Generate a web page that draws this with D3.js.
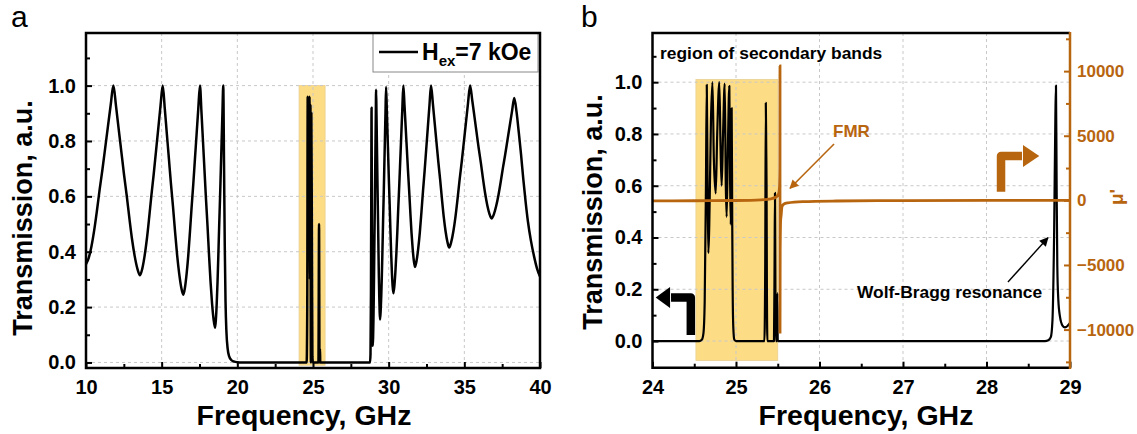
<!DOCTYPE html>
<html>
<head>
<meta charset="utf-8">
<script src="https://cdn.jsdelivr.net/npm/d3@7"></script>
<style>
  body { margin: 0; background: #fff; }
  svg text { font-family: "Liberation Sans", Arial, sans-serif; font-weight: bold; }
</style>
</head>
<body>
<svg id="chart" width="1137" height="434"></svg>
<script>
// ---- panel a : transmission vs frequency, Hex = 7 kOe
const freqA = [
  10.00,10.181,10.362,10.543,10.724,10.905,11.086,11.267,11.448,11.629,11.81,
  11.986,12.162,12.338,12.514,12.69,12.866,13.042,13.218,13.394,13.57,
  13.72,13.87,14.02,14.17,14.32,14.47,14.62,14.77,14.92,15.07,
  15.206,15.342,15.478,15.614,15.75,15.886,16.022,16.158,16.294,16.43,
  16.54,16.65,16.76,16.87,16.98,17.09,17.20,17.31,17.42,17.53,
  17.63,17.73,17.83,17.93,18.03,18.13,18.23,18.33,18.43,18.53,
  18.584,18.638,18.692,18.746,18.80,18.854,18.908,18.962,19.016,19.07,
  19.12,19.17,19.22,19.28,19.36,19.46,19.6,19.8,20.0,20.3,
  24.55,24.58,24.62,24.65,24.68,24.71,24.74,24.77,24.80,24.83,24.86,24.89,24.93,24.96,25.0,
  25.36,25.40,25.43,25.46,25.48,
  28.77,28.80,28.83,28.85,28.87,28.89,28.91,28.93,28.95,
  28.972,28.994,29.016,29.038,29.06,29.082,29.104,29.126,29.148,29.17,
  29.196,29.222,29.248,29.274,29.30,29.326,29.352,29.378,29.404,29.43,
  29.47,29.51,29.55,29.59,29.63,29.67,29.71,29.75,29.79,29.83,
  29.878,29.926,29.974,30.022,30.07,30.118,30.166,30.214,30.262,30.31,
  30.376,30.442,30.508,30.574,30.64,30.706,30.772,30.838,30.904,30.97,
  31.047,31.124,31.201,31.278,31.355,31.432,31.509,31.586,31.663,31.74,
  31.846,31.952,32.058,32.164,32.27,32.376,32.482,32.588,32.694,32.80,
  32.92,33.04,33.16,33.28,33.40,33.52,33.64,33.76,33.88,34.00,
  34.138,34.276,34.414,34.552,34.69,34.828,34.966,35.104,35.242,35.38,
  35.522,35.664,35.806,35.948,36.09,36.232,36.374,36.516,36.658,36.80,
  36.95,37.10,37.25,37.40,37.55,37.70,37.85,38.00,38.15,38.30,
  38.45,38.60,38.75,38.90,39.05,39.20,39.40,39.60,39.80,40.00];
const transA = [
  0.355,0.378,0.420,0.478,0.549,0.626,0.697,0.774,0.852,0.929,1.0,
  0.925,0.842,0.760,0.678,0.603,0.521,0.445,0.384,0.339,0.315,
  0.339,0.384,0.445,0.521,0.603,0.678,0.760,0.842,0.925,1.0,
  0.917,0.826,0.736,0.645,0.562,0.472,0.388,0.321,0.271,0.245,
  0.271,0.321,0.388,0.472,0.562,0.645,0.736,0.826,0.917,1.0,
  0.904,0.799,0.694,0.589,0.493,0.388,0.291,0.213,0.156,0.125,
  0.156,0.213,0.291,0.388,0.493,0.589,0.694,0.799,0.904,1.0,
  0.72,0.42,0.22,0.11,0.05,0.022,0.009,0.003,0.001,0,
  0,0.0,0.2,0.96,0.5,0.95,0.55,0.96,0.3,0.93,0.0,0.90,0.40,0.02,0.0,
  0.0,0.50,0.0,0.05,0.0,
  0.0,0.03,0.25,0.6,0.92,0.55,0.25,0.1,0.06,
  0.092,0.153,0.236,0.338,0.449,0.550,0.661,0.772,0.883,0.985,
  0.894,0.794,0.695,0.595,0.504,0.404,0.313,0.238,0.184,0.155,
  0.184,0.239,0.315,0.407,0.508,0.600,0.701,0.802,0.903,0.995,
  0.913,0.824,0.734,0.645,0.563,0.474,0.392,0.325,0.276,0.25,
  0.276,0.325,0.393,0.475,0.565,0.648,0.738,0.828,0.918,1.0,
  0.928,0.849,0.771,0.692,0.620,0.542,0.469,0.411,0.368,0.345,
  0.368,0.411,0.469,0.542,0.620,0.692,0.771,0.849,0.928,1.0,
  0.936,0.865,0.795,0.725,0.661,0.591,0.526,0.474,0.436,0.415,
  0.436,0.474,0.526,0.591,0.661,0.725,0.795,0.865,0.936,1.0,
  0.947,0.890,0.832,0.774,0.722,0.664,0.611,0.568,0.537,0.52,
  0.535,0.564,0.603,0.651,0.703,0.751,0.803,0.855,0.907,0.955,
  0.905,0.83,0.75,0.66,0.58,0.51,0.44,0.385,0.34,0.31];

// ---- panel b : zoom 24-29 GHz, transmission + mu'
const freqB = [
  24.00,24.56,24.59,24.61,24.625,24.64,24.65,24.66,24.669,24.68,
  24.70,24.718,24.735,24.757,24.775,24.80,24.815,24.828,24.845,24.865,
  24.878,24.888,24.903,24.92,24.93,24.938,24.948,24.955,24.96,24.968,24.98,25.0,
  25.34,25.35,25.357,25.362,25.366,25.37,25.376,
  25.455,25.462,25.467,25.472,25.478,25.49,25.495,25.5,
  28.70,28.74,28.77,28.79,28.81,28.825,28.832,28.84,28.848,28.86,28.88,28.91,28.94,28.97,29.00];
const transB = [
  0,0,0.005,0.03,0.15,0.6,0.99,0.6,0.34,0.45,
  0.85,1.0,0.7,0.57,0.8,1.0,0.75,0.6,0.8,0.995,
  0.6,0.48,0.75,0.985,0.6,0.45,0.9,0.45,0.2,0.05,0.005,0,
  0,0.3,0.92,0.75,0.6,0.2,0,
  0,0.3,0.572,0.2,0,0,0.185,0,
  0,0.003,0.015,0.08,0.42,0.87,0.987,0.6,0.29,0.16,0.094,0.06,0.053,0.058,0.07];
const freqMu = [24.00,24.50,25.00,25.30,25.42,25.48,25.51,25.52,25.525,25.527,25.5272,25.529,25.535,25.54,25.55,25.57,25.62,25.80,26.20,27.00,29.00];
const muVal  = [-40,-30,-10,40,120,260,500,900,2500,10400,-10300,-4000,-1500,-1200,-500,-300,-200,-100,-50,-20,0];

// ticks
const xTicksA = [10,15,20,25,30,35,40];
const xMinorA = [12.5,17.5,22.5,27.5,32.5,37.5];
const yTicks = [0,0.2,0.4,0.6,0.8,1.0];
const yMinor = [0.1,0.3,0.5,0.7,0.9,1.1];
const xTicksB = [24,25,26,27,28,29];
const xMinorB = [24.5,25.5,26.5,27.5,28.5];
const muTicks = [-10000,-5000,0,5000,10000];
const muMinor = [-12500,-7500,-2500,2500,7500,12500];

const ORANGE = "#b8650f";
const YELLOW = "#fddc86";
const GRID = "#c8c8c8";

const svg = d3.select("#chart");

const defs = svg.append("defs");
[["headBlack","#000"],["headOrange",ORANGE]].forEach(function(m){
  defs.append("marker").attr("id", m[0])
    .attr("viewBox","0 0 10 10").attr("refX",9).attr("refY",5)
    .attr("markerUnits","userSpaceOnUse").attr("markerWidth",10).attr("markerHeight",9)
    .attr("orient","auto")
    .append("path").attr("d","M0,0 L10,5 L0,10 z").attr("fill", m[1]);
});

function styleAxis(g, size, color) {
  g.select(".domain").remove();
  g.selectAll(".tick line").attr("stroke", color).attr("stroke-width", 2);
  g.selectAll(".tick text").attr("fill", color).style("font-size", size + "px");
}

// ================= panel a =================
const xa = d3.scaleLinear().domain([10, 40]).range([86, 540]);
const ya = d3.scaleLinear().domain([-0.02, 1.19]).range([368, 33]);

const ga = svg.append("g");

ga.append("rect")
  .attr("x", xa(24.08)).attr("y", ya(1.0))
  .attr("width", xa(25.8) - xa(24.08)).attr("height", ya(-0.01) - ya(1.0))
  .attr("fill", YELLOW).attr("stroke", "#e9cf8e").attr("stroke-width", 0.8);

ga.selectAll(".gx").data([15,20,25,30,35]).join("line")
  .attr("x1", xa).attr("x2", xa).attr("y1", 33).attr("y2", 368)
  .attr("stroke", GRID).attr("stroke-width", 1).attr("stroke-dasharray", "3,3");
ga.selectAll(".gy").data(yTicks).join("line")
  .attr("x1", 86).attr("x2", 540).attr("y1", ya).attr("y2", ya)
  .attr("stroke", GRID).attr("stroke-width", 1).attr("stroke-dasharray", "3,3");

const lineA = d3.line().x(d => xa(d[0])).y(d => ya(d[1])).curve(d3.curveMonotoneX);
ga.append("path").datum(d3.zip(freqA, transA))
  .attr("d", lineA).attr("fill", "none").attr("stroke", "#000").attr("stroke-width", 2.5)
  .attr("stroke-linejoin", "round");

ga.append("g").attr("transform", "translate(0,368)")
  .call(d3.axisBottom(xa).tickValues(xTicksA).tickSize(-6).tickPadding(12).tickFormat(d3.format("d")))
  .call(g => styleAxis(g, 20, "#000"));
ga.append("g").attr("transform", "translate(0,368)")
  .call(d3.axisBottom(xa).tickValues(xMinorA).tickSize(-4).tickFormat(""))
  .call(g => styleAxis(g, 20, "#000"));
ga.append("g").attr("transform", "translate(86,0)")
  .call(d3.axisLeft(ya).tickValues(yTicks).tickSize(-6).tickPadding(10).tickFormat(d3.format(".1f")))
  .call(g => styleAxis(g, 20, "#000"));
ga.append("g").attr("transform", "translate(86,0)")
  .call(d3.axisLeft(ya).tickValues(yMinor).tickSize(-4).tickFormat(""))
  .call(g => styleAxis(g, 20, "#000"));

// legend
ga.append("rect").attr("x", 373).attr("y", 33).attr("width", 165).attr("height", 39)
  .attr("fill", "#fff").attr("stroke", "#888").attr("stroke-width", 1);
ga.append("line").attr("x1", 379).attr("x2", 418).attr("y1", 52).attr("y2", 52)
  .attr("stroke", "#000").attr("stroke-width", 2.5);
const leg = ga.append("text").attr("x", 422).attr("y", 60).style("font-size", "23px");
leg.append("tspan").text("H");
leg.append("tspan").attr("dy", 6).style("font-size", "15px").text("ex");
leg.append("tspan").attr("dy", -6).text("=7 kOe");

ga.append("rect").attr("x", 86).attr("y", 33).attr("width", 454).attr("height", 335)
  .attr("fill", "none").attr("stroke", "#000").attr("stroke-width", 2.5);

ga.append("text").attr("transform", "translate(32,218) rotate(-90)")
  .attr("text-anchor", "middle").style("font-size", "27px").text("Transmission, a.u.");
ga.append("text").attr("x", 304).attr("y", 425)
  .attr("text-anchor", "middle").style("font-size", "28.5px").text("Frequency, GHz");
svg.append("text").attr("x", 11).attr("y", 27).style("font-size", "30px")
  .style("font-weight", "normal").text("a");

// ================= panel b =================
const xb = d3.scaleLinear().domain([24, 29]).range([652.5, 1070]);
const yb = d3.scaleLinear().domain([-0.103, 1.19]).range([367.7, 33]);
const mub = d3.scaleLinear().domain([-12950, 12950]).range([367.7, 33]);

const gb = svg.append("g");

gb.append("rect")
  .attr("x", xb(24.52)).attr("y", yb(1.01))
  .attr("width", xb(25.5) - xb(24.52)).attr("height", yb(-0.075) - yb(1.01))
  .attr("fill", YELLOW).attr("stroke", "#e9cf8e").attr("stroke-width", 0.8);

gb.selectAll(".gx").data([25,26,27,28]).join("line")
  .attr("x1", xb).attr("x2", xb).attr("y1", 33).attr("y2", 367.7)
  .attr("stroke", GRID).attr("stroke-width", 1).attr("stroke-dasharray", "3,3");
gb.selectAll(".gy").data(yTicks).join("line")
  .attr("x1", 652.5).attr("x2", 1070).attr("y1", yb).attr("y2", yb)
  .attr("stroke", GRID).attr("stroke-width", 1).attr("stroke-dasharray", "3,3");

const lineB = d3.line().x(d => xb(d[0])).y(d => yb(d[1])).curve(d3.curveMonotoneX);
gb.append("path").datum(d3.zip(freqB, transB))
  .attr("d", lineB).attr("fill", "none").attr("stroke", "#000").attr("stroke-width", 2.2)
  .attr("stroke-linejoin", "round");

const lineMu = d3.line().x(d => xb(d[0])).y(d => mub(d[1])).curve(d3.curveMonotoneX);
gb.append("path").datum(d3.zip(freqMu, muVal))
  .attr("d", lineMu).attr("fill", "none").attr("stroke", ORANGE).attr("stroke-width", 2.8);

gb.append("g").attr("transform", "translate(0,367.7)")
  .call(d3.axisBottom(xb).tickValues(xTicksB).tickSize(-6).tickPadding(12).tickFormat(d3.format("d")))
  .call(g => styleAxis(g, 20, "#000"));
gb.append("g").attr("transform", "translate(0,367.7)")
  .call(d3.axisBottom(xb).tickValues(xMinorB).tickSize(-4).tickFormat(""))
  .call(g => styleAxis(g, 20, "#000"));
gb.append("g").attr("transform", "translate(652.5,0)")
  .call(d3.axisLeft(yb).tickValues(yTicks).tickSize(-6).tickPadding(10).tickFormat(d3.format(".1f")))
  .call(g => styleAxis(g, 20, "#000"));
gb.append("g").attr("transform", "translate(652.5,0)")
  .call(d3.axisLeft(yb).tickValues(yMinor).tickSize(-4).tickFormat(""))
  .call(g => styleAxis(g, 20, "#000"));
gb.append("g").attr("transform", "translate(1070,0)")
  .call(d3.axisRight(mub).tickValues(muTicks).tickSize(-6).tickPadding(7).tickFormat(d3.format("d")))
  .call(g => styleAxis(g, 17, ORANGE));
gb.append("g").attr("transform", "translate(1070,0)")
  .call(d3.axisRight(mub).tickValues(muMinor).tickSize(-4).tickFormat(""))
  .call(g => styleAxis(g, 17, ORANGE));

// frame: black left/top/bottom, orange right
gb.append("path")
  .attr("d", `M1070,33 L652.5,33 L652.5,367.7 L1070,367.7`)
  .attr("fill", "none").attr("stroke", "#000").attr("stroke-width", 2.5);
gb.append("line").attr("x1", 1070).attr("x2", 1070).attr("y1", 32).attr("y2", 369)
  .attr("stroke", ORANGE).attr("stroke-width", 2.5);

// annotations
gb.append("text").attr("x", 660).attr("y", 59).style("font-size", "17.4px")
  .text("region of secondary bands");
gb.append("text").attr("x", 833).attr("y", mub(4900)).style("font-size", "17px")
  .attr("fill", ORANGE).text("FMR");
gb.append("line")
  .attr("x1", xb(26.174)).attr("y1", mub(4360)).attr("x2", xb(25.647)).attr("y2", mub(932))
  .attr("stroke", ORANGE).attr("stroke-width", 1.6).attr("marker-end", "url(#headOrange)");
gb.append("text").attr("x", 857).attr("y", 298).style("font-size", "17.4px")
  .text("Wolf-Bragg resonance");
gb.append("line")
  .attr("x1", xb(28.257)).attr("y1", yb(0.228)).attr("x2", xb(28.736)).attr("y2", yb(0.399))
  .attr("stroke", "#000").attr("stroke-width", 1.4).attr("marker-end", "url(#headBlack)");

// big L arrows (left axis / right axis)
const bkY = yb(0.168), bkX = xb(24.459), bkHead = xb(24.21);
gb.append("path")
  .attr("d", `M${bkX},${yb(0.023)} L${bkX},${bkY} L${bkHead + 1},${bkY}`)
  .attr("fill", "none").attr("stroke", "#000").attr("stroke-width", 8.5).attr("stroke-linejoin", "round");
gb.append("path")
  .attr("d", `M${xb(24.038)},${bkY} L${bkHead},${bkY - 10.5} L${bkHead},${bkY + 10.5} Z`)
  .attr("fill", "#000");

const orY = mub(3432), orX = xb(28.174), orHead = xb(28.437);
gb.append("path")
  .attr("d", `M${orX},${mub(669)} L${orX},${orY} L${orHead - 1},${orY}`)
  .attr("fill", "none").attr("stroke", ORANGE).attr("stroke-width", 8.5).attr("stroke-linejoin", "round");
gb.append("path")
  .attr("d", `M${xb(28.632)},${orY} L${orHead},${orY - 11} L${orHead},${orY + 11} Z`)
  .attr("fill", ORANGE);

gb.append("text").attr("transform", "translate(602,212) rotate(-90)")
  .attr("text-anchor", "middle").style("font-size", "27px").text("Transmission, a.u.");
gb.append("text").attr("x", 866).attr("y", 425)
  .attr("text-anchor", "middle").style("font-size", "28.5px").text("Frequency, GHz");
gb.append("text").attr("transform", "translate(1123,197) rotate(-90)")
  .attr("text-anchor", "middle").attr("fill", ORANGE).style("font-size", "19px").text("μ'");
svg.append("text").attr("x", 581).attr("y", 27).style("font-size", "30px")
  .style("font-weight", "normal").text("b");
</script>
</body>
</html>
